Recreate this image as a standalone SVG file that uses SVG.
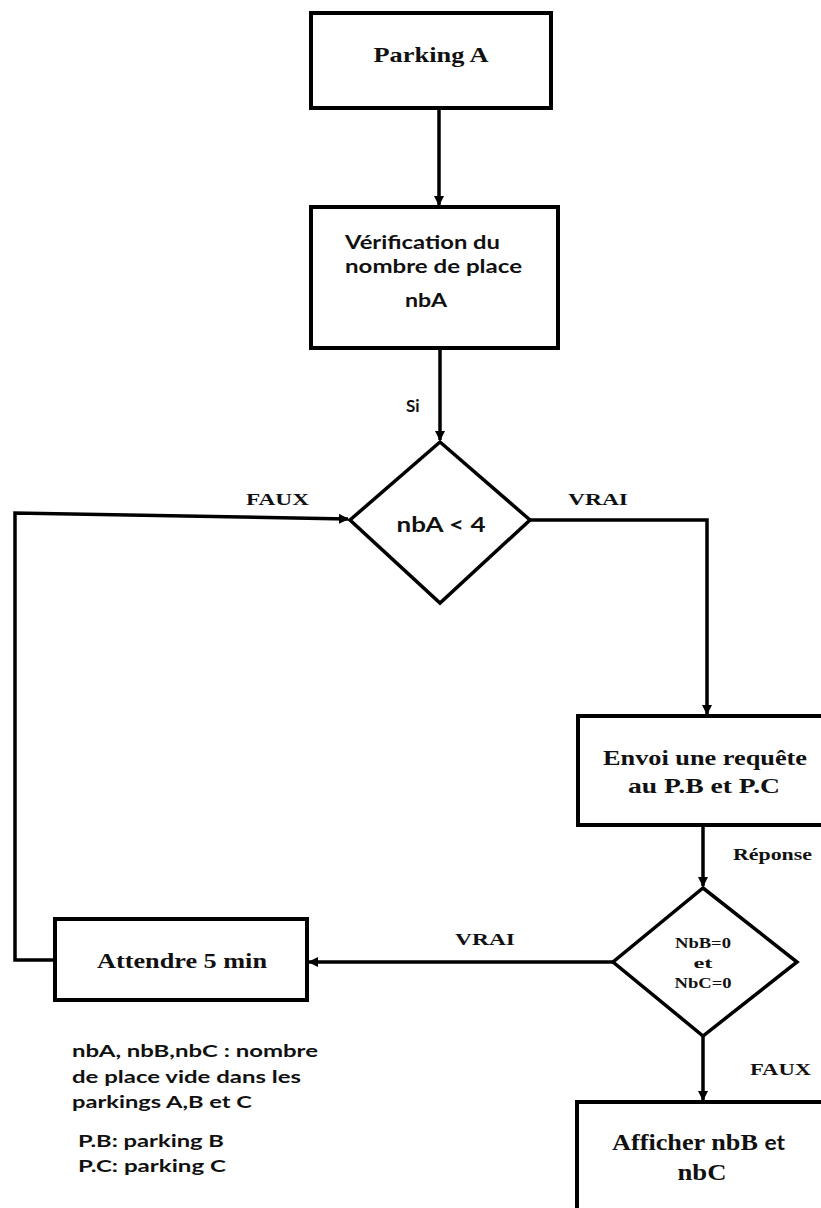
<svg xmlns="http://www.w3.org/2000/svg" width="821" height="1208" viewBox="0 0 821 1208">
<style>
.box{fill:#fff;stroke:#000;stroke-width:4}
.dia{fill:#fff;stroke:#000;stroke-width:3.5}
.ln{fill:none;stroke:#000;stroke-width:3.5}
.serif{font-family:"Liberation Serif","Times New Roman",serif;font-weight:bold;fill:#111}
.sans{font-family:Lato,"Open Sans","Liberation Sans",sans-serif;font-weight:bold;fill:#111}
</style>
<defs>
<marker id="ah" markerWidth="10" markerHeight="10" refX="9" refY="5" orient="auto" markerUnits="userSpaceOnUse">
<path d="M0,0 L10,5 L0,10 z" fill="#000"/>
</marker>
</defs>
<rect width="821" height="1208" fill="#fff"/>
<g id="connectors">
<line class="ln" x1="439" y1="108" x2="439" y2="205" marker-end="url(#ah)"/>
<line class="ln" x1="440" y1="348" x2="440" y2="440" marker-end="url(#ah)"/>
<polyline class="ln" points="530,520 707,520 707,714" marker-end="url(#ah)"/>
<line class="ln" x1="703" y1="825" x2="703" y2="886" marker-end="url(#ah)"/>
<line class="ln" x1="613" y1="962" x2="309" y2="962" marker-end="url(#ah)"/>
<polyline class="ln" points="55,960 15,960 15,513 348,519" marker-end="url(#ah)"/>
<line class="ln" x1="703" y1="1036" x2="703" y2="1100" marker-end="url(#ah)"/>
<text class="sans" x="406" y="412" font-size="17">Si</text>
<text class="serif" x="246" y="505" font-size="16" textLength="63" lengthAdjust="spacingAndGlyphs">FAUX</text>
<text class="serif" x="568" y="505" font-size="16" textLength="60" lengthAdjust="spacingAndGlyphs">VRAI</text>
<text class="serif" x="733" y="860" font-size="16" textLength="79" lengthAdjust="spacingAndGlyphs">Réponse</text>
<text class="serif" x="455" y="945" font-size="16" textLength="60" lengthAdjust="spacingAndGlyphs">VRAI</text>
<text class="serif" x="750" y="1075" font-size="16" textLength="61" lengthAdjust="spacingAndGlyphs">FAUX</text>
</g>
<g id="parking-a">
<rect class="box" x="311" y="13" width="240" height="95"/>
<text class="serif" x="431" y="62" font-size="22" text-anchor="middle" textLength="115" lengthAdjust="spacingAndGlyphs">Parking A</text>
</g>
<g id="verification">
<rect class="box" x="311" y="207" width="247" height="141"/>
<text class="sans" x="345" y="249" font-size="18" textLength="155" lengthAdjust="spacingAndGlyphs">Vérification du</text>
<text class="sans" x="345" y="273" font-size="18" textLength="177" lengthAdjust="spacingAndGlyphs">nombre de place</text>
<text class="sans" x="426" y="307" font-size="18" text-anchor="middle" textLength="42" lengthAdjust="spacingAndGlyphs">nbA</text>
</g>
<g id="decision-nba">
<polygon class="dia" points="440,442 530,520 440,603 350,520"/>
<text class="sans" x="441" y="532" font-size="21" text-anchor="middle" textLength="89" lengthAdjust="spacingAndGlyphs">nbA &lt; 4</text>
</g>
<g id="envoi">
<rect class="box" x="578" y="716" width="260" height="109"/>
<text class="serif" x="705" y="765" font-size="22" text-anchor="middle" textLength="204" lengthAdjust="spacingAndGlyphs">Envoi une requête</text>
<text class="serif" x="704" y="793" font-size="22" text-anchor="middle" textLength="152" lengthAdjust="spacingAndGlyphs">au P.B et P.C</text>
</g>
<g id="decision-nbbc">
<polygon class="dia" points="703,888 797,962 703,1036 613,962"/>
<text class="serif" x="703" y="948" font-size="15" text-anchor="middle" textLength="56" lengthAdjust="spacingAndGlyphs">NbB=0</text>
<text class="serif" x="703" y="968" font-size="15" text-anchor="middle" textLength="19" lengthAdjust="spacingAndGlyphs">et</text>
<text class="serif" x="703" y="988" font-size="15" text-anchor="middle" textLength="57" lengthAdjust="spacingAndGlyphs">NbC=0</text>
</g>
<g id="attendre">
<rect class="box" x="55" y="919" width="252" height="81"/>
<text class="serif" x="182" y="968" font-size="20" text-anchor="middle" textLength="170" lengthAdjust="spacingAndGlyphs">Attendre 5 min</text>
</g>
<g id="afficher">
<rect class="box" x="577" y="1102" width="260" height="120"/>
<text class="serif" x="612" y="1150" font-size="23" textLength="173" lengthAdjust="spacingAndGlyphs">Afficher nbB <tspan class="sans" font-size="20">et</tspan></text>
<text class="serif" x="702" y="1180" font-size="23" text-anchor="middle" textLength="49" lengthAdjust="spacingAndGlyphs">nbC</text>
</g>
<g id="note">
<text class="sans" x="72" y="1057" font-size="17" textLength="246" lengthAdjust="spacingAndGlyphs">nbA, nbB,nbC : nombre</text>
<text class="sans" x="72" y="1083" font-size="17" textLength="229" lengthAdjust="spacingAndGlyphs">de place vide dans les</text>
<text class="sans" x="72" y="1108" font-size="17" textLength="180" lengthAdjust="spacingAndGlyphs">parkings A,B et C</text>
<text class="sans" x="78" y="1147" font-size="17" textLength="146" lengthAdjust="spacingAndGlyphs">P.B: parking B</text>
<text class="sans" x="78" y="1172" font-size="17" textLength="148" lengthAdjust="spacingAndGlyphs">P.C: parking C</text>
</g>
</svg>
